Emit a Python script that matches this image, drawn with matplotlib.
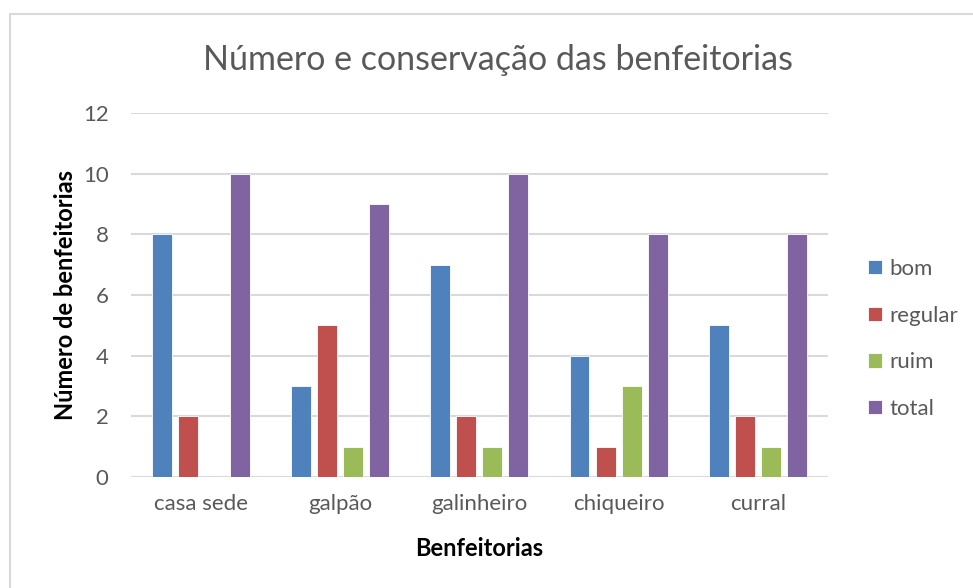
import numpy as np
import matplotlib.pyplot as plt
from matplotlib.patches import Rectangle

categorias = ["casa sede", "galpão", "galinheiro", "chiqueiro", "curral"]
series = ["bom", "regular", "ruim", "total"]
bom = [8, 3, 7, 4, 5]
regular = [2, 5, 2, 1, 2]
ruim = [0, 1, 1, 3, 1]
total = [10, 9, 10, 8, 8]
cores = ["#4F81BD", "#C0504D", "#9BBB59", "#8064A2"]

plt.rcParams["font.family"] = ["Lato", "DejaVu Sans"]

fig = plt.figure(figsize=(9.73, 5.88), dpi=100)
ax = fig.add_axes([0.1346, 0.1888, 0.8505 - 0.1346, 0.8078 - 0.1888])

# chart area border
fig.patches.append(Rectangle((10 / 973, -0.05), 1.0, 1 - 14 / 588 + 0.05,
                             transform=fig.transFigure, fill=False,
                             edgecolor="#D9D9D9", linewidth=1.5))

x = np.arange(len(categorias))
largura = 0.143
passo = 0.187
valores = [bom, regular, ruim, total]
for i, (nome, vals, cor) in enumerate(zip(series, valores, cores)):
    pos = x + (i - 1.5) * passo
    ax.bar(pos, vals, largura, color=cor, edgecolor="#FFFFFF", linewidth=0.6,
           label=nome, zorder=3)

ax.set_xlim(-0.5, len(categorias) - 0.5)
ax.set_ylim(0, 12)
ax.set_yticks(range(0, 13, 2))
ax.set_xticks(x)
ax.set_xticklabels(categorias)
ax.grid(axis="y", color="#D9D9D9", linewidth=1.5, zorder=0)
for s in ax.spines.values():
    s.set_visible(False)
ax.tick_params(axis="both", length=0, labelsize=16, colors="#595959")
ax.tick_params(axis="y", pad=16)
ax.tick_params(axis="x", pad=12)

ax.set_ylabel("Número de benfeitorias", fontsize=17, fontweight="bold",
              color="black", labelpad=4)
ax.set_xlabel("Benfeitorias", fontsize=17, fontweight="bold",
              color="black", labelpad=17)
fig.text(0.512, 0.898, "Número e conservação das benfeitorias",
         ha="center", va="center", fontsize=24.5, color="#595959")

leg = ax.legend(loc="center left", bbox_to_anchor=(1.03, 0.379), frameon=False,
                fontsize=16, handlelength=0.6, handleheight=0.6,
                handletextpad=0.35, labelspacing=1.2)
for t in leg.get_texts():
    t.set_color("#595959")

fig.savefig("out.png", dpi=100)
